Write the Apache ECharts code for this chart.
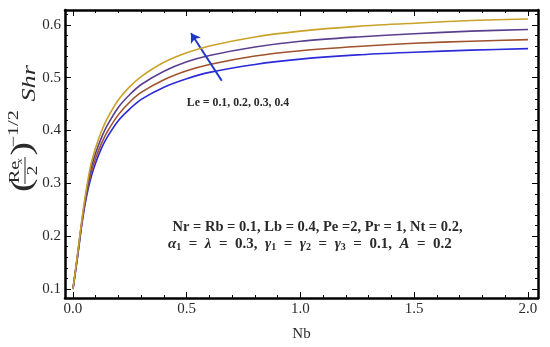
<!DOCTYPE html>
<html><head><meta charset="utf-8">
<script src="https://cdn.jsdelivr.net/npm/echarts@6/dist/echarts.min.js"></script>
<style>html,body{margin:0;padding:0;background:#fff}#c{width:550px;height:347px}</style>
</head><body><div id="c"></div>
<script>
// Nb values (x)
const nb = [0, 0.02, 0.04, 0.06, 0.08, 0.1, 0.125, 0.15, 0.2, 0.25, 0.3, 0.4, 0.5, 0.6, 0.8, 1.0, 1.25, 1.5, 1.75, 2.0];
// Le = 0.1 (blue)
const le01 = [0.1, 0.160, 0.225, 0.276, 0.312, 0.339, 0.366, 0.387, 0.419, 0.441, 0.459, 0.482, 0.498, 0.510, 0.525, 0.535, 0.543, 0.548, 0.552, 0.555];
// Le = 0.2 (brown)
const le02 = [0.1, 0.162, 0.228, 0.281, 0.320, 0.348, 0.375, 0.397, 0.430, 0.454, 0.472, 0.496, 0.513, 0.525, 0.541, 0.551, 0.559, 0.565, 0.569, 0.572];
// Le = 0.3 (purple)
const le03 = [0.1, 0.164, 0.231, 0.286, 0.329, 0.358, 0.386, 0.409, 0.444, 0.468, 0.487, 0.512, 0.530, 0.542, 0.558, 0.569, 0.577, 0.583, 0.588, 0.591];
// Le = 0.4 (gold)
const le04 = [0.1, 0.166, 0.234, 0.292, 0.338, 0.368, 0.398, 0.422, 0.458, 0.483, 0.502, 0.529, 0.547, 0.560, 0.577, 0.588, 0.597, 0.603, 0.608, 0.611];

const xMajor = [0, 0.5, 1, 1.5, 2];
const xMinor = [0.1, 0.2, 0.3, 0.4, 0.6, 0.7, 0.8, 0.9, 1.1, 1.2, 1.3, 1.4, 1.6, 1.7, 1.8, 1.9];
const yMajor = [0.1, 0.2, 0.3, 0.4, 0.5, 0.6];
const yMinor = [0.12, 0.14, 0.16, 0.18, 0.22, 0.24, 0.26, 0.28, 0.32, 0.34, 0.36, 0.38, 0.42, 0.44, 0.46, 0.48, 0.52, 0.54, 0.56, 0.58, 0.62];

const arrowFrom = [0.654, 0.494];
const arrowTo = [0.519, 0.584];

const SERIF = 'Liberation Serif';
const TXT = '#2a2a2a';
const X_MIN = -0.035, X_MAX = 2.044, Y_MIN = 0.083, Y_MAX = 0.628;

function pairs(ys) { return nb.map((x, i) => [x, ys[i]]); }

function xAx(pos, ticks, len, showLine, showLabel, extra) {
  return Object.assign({
    type: 'value', position: pos, min: X_MIN, max: X_MAX,
    splitLine: { show: false },
    axisLine: { show: showLine, onZero: false, lineStyle: { color: '#000', width: 2.5 } },
    axisTick: { show: true, inside: true, length: len, customValues: ticks, lineStyle: { color: '#000', width: 1 } },
    axisLabel: showLabel ? { show: true, customValues: xMajor, formatter: v => v.toFixed(1), fontFamily: SERIF, fontSize: 15, color: TXT, margin: 4 } : { show: false }
  }, extra || {});
}
function yAx(pos, ticks, len, showLine, showLabel) {
  return {
    type: 'value', position: pos, min: Y_MIN, max: Y_MAX,
    splitLine: { show: false },
    axisLine: { show: showLine, onZero: false, lineStyle: { color: '#000', width: 2.5 } },
    axisTick: { show: true, inside: true, length: len, customValues: ticks, lineStyle: { color: '#000', width: 1 } },
    axisLabel: showLabel ? { show: true, customValues: yMajor, formatter: v => v.toFixed(1), fontFamily: SERIF, fontSize: 15, color: TXT, margin: 4 } : { show: false }
  };
}

const colors = ['#2a2ad8', '#a0522d', '#5b3f8f', '#c9a227'];
const seriesData = [le01, le02, le03, le04];

const chart = echarts.init(document.getElementById('c'), null, { renderer: 'canvas' });
const series = seriesData.map((d, i) => ({
  type: 'line', xAxisIndex: 0, yAxisIndex: 0, data: pairs(d),
  showSymbol: false, smooth: 0.3,
  lineStyle: { color: colors[i], width: 1.6 }, itemStyle: { color: colors[i] }, z: 2 + i
}));
series[0].markLine = {
  silent: true, symbol: ['none', 'arrow'], symbolSize: 9,
  lineStyle: { color: '#2038c8', width: 2, type: 'solid' },
  label: { show: false },
  data: [[{ coord: arrowFrom }, { coord: arrowTo }]]
};

const yName = {
  type: 'group', x: 25, y: 192, rotation: Math.PI / 2, scaleX: 1.35,
  children: [
    { type: 'text', x: 0, y: -2, style: { text: '(', font: '30px ' + SERIF, fill: TXT, verticalAlign: 'middle', align: 'left' } },
    { type: 'text', x: 6.5, y: -2, style: { text: 'Re', font: '15px ' + SERIF, fill: TXT, verticalAlign: 'bottom', align: 'left' } },
    { type: 'text', x: 21, y: -1, style: { text: 'x', font: 'italic 9px ' + SERIF, fill: TXT, verticalAlign: 'bottom', align: 'left' } },
    { type: 'line', shape: { x1: 6, y1: 0, x2: 26, y2: 0 }, style: { stroke: TXT, lineWidth: 1 } },
    { type: 'text', x: 16, y: 1, style: { text: '2', font: '14px ' + SERIF, fill: TXT, verticalAlign: 'top', align: 'center' } },
    { type: 'text', x: 27, y: -2, style: { text: ')', font: '30px ' + SERIF, fill: TXT, verticalAlign: 'middle', align: 'left' } },
    { type: 'text', x: 33, y: -11, style: { text: '\u22121/2', font: '15px ' + SERIF, fill: TXT, verticalAlign: 'middle', align: 'left' } },
    { type: 'text', x: 67, y: 5, style: { text: 'Shr', font: 'italic 19.5px ' + SERIF, fill: TXT, verticalAlign: 'middle', align: 'left' } }
  ]
};

chart.setOption({
  backgroundColor: '#fff',
  animation: false,
  grid: { left: 65, top: 10, right: 12, bottom: 45, containLabel: false },
  xAxis: [
    xAx('bottom', xMajor, 6, true, true, { name: 'Nb', nameLocation: 'middle', nameGap: 29, nameTextStyle: { fontFamily: SERIF, fontSize: 15, color: TXT, verticalAlign: 'top' } }),
    xAx('bottom', xMinor, 3, false, false),
    xAx('top', xMajor, 6, true, false),
    xAx('top', xMinor, 3, false, false)
  ],
  yAxis: [
    yAx('left', yMajor, 6, true, true),
    yAx('left', yMinor, 3, false, false),
    yAx('right', yMajor, 6, true, false),
    yAx('right', yMinor, 3, false, false)
  ],
  series: series,
  graphic: [
    yName,
    { type: 'text', x: 238, y: 103, style: { text: 'Le = 0.1, 0.2, 0.3, 0.4', font: 'bold 11.8px ' + SERIF, fill: TXT, align: 'center', verticalAlign: 'middle' } },
    { type: 'text', x: 317.5, y: 227, style: { text: 'Nr = Rb = 0.1, Lb = 0.4, Pe =2, Pr = 1, Nt = 0.2,', font: 'bold 14.5px ' + SERIF, fill: TXT, align: 'center', verticalAlign: 'middle' } },
    { type: 'text', x: 168, y: 244, style: {
      text: '{g|\u03b1}{s|1}  =  {g|\u03bb}  =  0.3,  {g|\u03b3}{s|1}  =  {g|\u03b3}{s|2}  =  {g|\u03b3}{s|3}  =  0.1,  {g|A}  =  0.2',
      font: 'bold 15px ' + SERIF, fill: TXT, align: 'left', verticalAlign: 'middle',
      rich: {
        g: { font: 'italic bold 15px ' + SERIF, fill: TXT },
        s: { font: 'bold 10px ' + SERIF, fill: TXT, verticalAlign: 'bottom', padding: [7, 0, 0, 0] }
      }
    } }
  ]
});
</script></body></html>
